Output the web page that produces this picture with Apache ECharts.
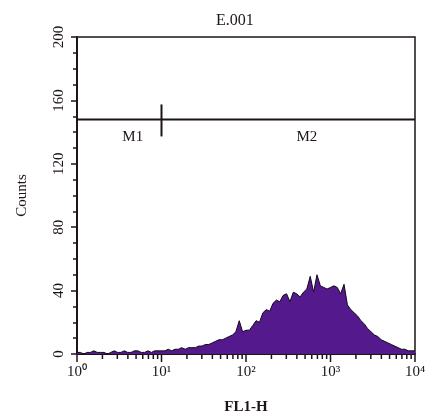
<!DOCTYPE html>
<html>
<head>
<meta charset="utf-8">
<script src="https://cdn.jsdelivr.net/npm/echarts@6/dist/echarts.min.js"></script>
<style>html,body{margin:0;padding:0;background:#fff}#c{width:427px;height:414px}</style>
</head>
<body>
<div id="c"></div>
<script>
// log10(FL1-H) channel positions
const channelExp = [
  0.00,0.04,0.08,0.12,0.16,0.20,0.24,0.28,0.32,0.36,0.40,0.44,0.48,0.52,0.56,0.60,0.64,0.68,0.72,0.76,0.80,0.84,0.88,0.92,0.96,
  1.00,1.04,1.08,1.12,1.16,1.20,1.24,1.28,1.32,1.36,1.40,1.44,1.48,1.52,1.56,1.60,1.64,1.68,1.72,1.76,1.80,1.84,1.88,1.92,1.96,
  2.00,2.04,2.08,2.12,2.16,2.20,2.24,2.28,2.32,2.36,2.40,2.44,2.48,2.52,2.56,2.60,2.64,2.68,2.72,2.76,2.80,2.84,2.88,2.92,2.96,
  3.00,3.04,3.08,3.12,3.16,3.20,3.24,3.28,3.32,3.36,3.40,3.44,3.48,3.52,3.56,3.60,3.64,3.68,3.72,3.76,3.80,3.84,3.88,3.92,3.96,4.00
];
const counts = [
  1,1,0,1,1,2,1,1,1,0,1,2,1,1,2,1,1,2,2,1,1,2,1,2,2,
  2,2,3,2,3,3,4,3,4,4,4,5,5,6,6,7,8,9,9,10,11,12,14,21,14,
  15,15,18,21,20,26,28,27,32,34,33,37,38,33,39,38,36,39,41,49,39,50,43,42,41,
  42,43,42,38,44,31,28,26,24,21,19,16,14,12,11,9,8,7,6,5,4,3,3,2,2,2
];
const decadeTicks = [0, 1, 2, 3, 4];
const supDigits = ['⁰','¹','²','³','⁴'];
const yTicks = [0, 40, 80, 120, 160, 200];
const markerNames = ['M1', 'M2'];
const markerStart = [0, 1];
const markerEnd = [1, 4];
const markerLevel = [148, 148];
const markerLabelAt = [0.66, 2.72];

// minor log ticks at 2..9 within each decade
const minorExp = [];
for (let d = 0; d < 4; d++) for (let k = 2; k <= 9; k++) minorExp.push(d + Math.log10(k));

const FONT = 'Liberation Serif';
const ink = '#1c1418';

const tickItems = decadeTicks.map(v => [v, 1]).concat(minorExp.map(v => [v, 0]));

const chart = echarts.init(document.getElementById('c'), null, {renderer: 'canvas'});
chart.setOption({
  animation: false,
  backgroundColor: '#fff',
  title: {
    text: 'E.001', left: 211, top: 8,
    textStyle: {fontFamily: FONT, fontSize: 16, fontWeight: 'normal', color: ink}
  },
  grid: {left: 77, right: 12, top: 37, bottom: 60, outerBoundsMode: 'none', show: true, borderColor: ink, borderWidth: 1.5, backgroundColor: 'transparent'},
  xAxis: {
    type: 'value', min: 0, max: 4, interval: 1,
    name: 'FL1-H', nameLocation: 'middle', nameGap: 46,
    nameTextStyle: {fontFamily: FONT, fontSize: 15, fontWeight: 'bold', color: ink},
    axisLine: {show: true, lineStyle: {color: ink, width: 2}},
    axisTick: {show: false},
    axisLabel: {
      fontFamily: FONT, fontSize: 15, color: ink, margin: 11,
      formatter: v => '10' + supDigits[Math.round(v)]
    },
    splitLine: {show: false}
  },
  yAxis: {
    type: 'value', min: 0, max: 200, interval: 40,
    name: 'Counts', nameLocation: 'middle', nameGap: 47, nameRotate: 90,
    nameTextStyle: {fontFamily: FONT, fontSize: 15, color: ink},
    axisLine: {show: true, lineStyle: {color: ink, width: 2}},
    axisTick: {show: true, length: 6, lineStyle: {color: ink, width: 1.5}},
    minorTick: {show: true, splitNumber: 4, length: 4, lineStyle: {color: ink, width: 1.5}},
    axisLabel: {rotate: 90, fontFamily: FONT, fontSize: 15, color: ink, margin: 10},
    splitLine: {show: false}, minorSplitLine: {show: false}
  },
  series: [{
    type: 'line',
    data: channelExp.map((e, i) => [e, counts[i]]),
    showSymbol: false, symbol: 'none',
    lineStyle: {color: '#150818', width: 1},
    areaStyle: {color: '#54198c', opacity: 1},
    z: 2
  }, {
    type: 'custom',
    data: markerNames.map((n, i) => [markerStart[i], markerEnd[i], markerLevel[i], markerLabelAt[i]]),
    renderItem: function (params, api) {
      const s = api.coord([api.value(0), api.value(2)]);
      const e = api.coord([api.value(1), api.value(2)]);
      const l = api.coord([api.value(3), api.value(2)]);
      const name = markerNames[params.dataIndex];
      return {
        type: 'group',
        children: [
          {type: 'line', shape: {x1: s[0], y1: s[1], x2: e[0], y2: e[1]}, style: {stroke: ink, lineWidth: 2}},
          {type: 'line', shape: {x1: s[0], y1: s[1] - 15, x2: s[0], y2: s[1] + 17}, style: {stroke: ink, lineWidth: 2}},
          {type: 'text', x: l[0], y: l[1] + 18, style: {text: name, fill: ink, font: '15px "Liberation Serif"', textAlign: 'center', textVerticalAlign: 'middle'}}
        ]
      };
    },
    z: 3
  }, {
    // x-axis log ticks (major decades and minor 2..9)
    type: 'custom',
    clip: false,
    silent: true,
    data: tickItems,
    renderItem: function (params, api) {
      const p = api.coord([api.value(0), 0]);
      const len = api.value(1) ? 7 : 4;
      return {type: 'line', shape: {x1: p[0], y1: p[1] + 1, x2: p[0], y2: p[1] + 1 + len}, style: {stroke: ink, lineWidth: 1.5}};
    },
    z: 5
  }]
});
</script>
</body>
</html>
